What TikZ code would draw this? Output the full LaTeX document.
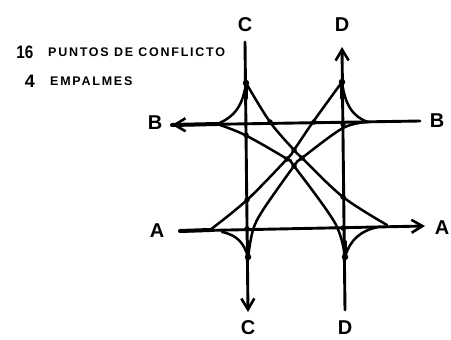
\documentclass[tikz,border=0pt]{standalone}
\usepackage{fontspec}
\setmainfont{Liberation Sans}
\usetikzlibrary{arrows.meta}
\tikzset{
  road/.style={line width=2.9pt,black,line cap=round},
  ramp/.style={line width=2.5pt,black,line cap=round},
  merge/.style={line width=4pt,black,line cap=round},
  tip/.style={-{Straight Barb[length=11pt,width=13pt,line width=2.6pt]}},
  big/.style={font=\bfseries\fontsize{20}{20}\selectfont,inner sep=0pt},
  num/.style={font=\bfseries\fontsize{18}{18}\selectfont,inner sep=0pt},
  small/.style={font=\bfseries\fontsize{12.5}{12.5}\selectfont\addfontfeature{LetterSpace=14},inner sep=0pt,anchor=west},
  dotj/.style={circle,fill=black,inner sep=0pt,minimum size=6.5pt},
  dotk/.style={circle,fill=black,inner sep=0pt,minimum size=5.5pt}
}
\begin{document}
\begin{tikzpicture}[x=1pt,y=-1pt]
\useasboundingbox (0,0) rectangle (451,340);
\fill[white] (0,0) rectangle (451,340);
% labels
\node[big] (lct) at (245,25) {C};
\node[big] (ldt) at (342,25) {D};
\node[big] (lbl) at (155,123) {B};
\node[big] (lbr) at (437,121) {B};
\node[big] (lal) at (157,231) {A};
\node[big] (lar) at (442,228) {A};
\node[big] (lcb) at (248,328) {C};
\node[big] (ldb) at (345,328) {D};
\node[num,xscale=.85] (n16) at (25,52) {16};
\node[num] (n4) at (30,81) {4};
\node[small] (t1) at (48,52) {PUNTOS DE CONFLICTO};
\node[small] (t2) at (50,81) {EMPALMES};
% road ends and merge points
\coordinate (c0) at (245,42);   \coordinate (c1) at (248,312);
\coordinate (d0) at (345,310);  \coordinate (d1) at (342,47);
\coordinate (b0) at (420,121);  \coordinate (b1) at (172,125);
\coordinate (a0) at (180,231);  \coordinate (a1) at (425,226);
\coordinate (jct) at (246,83);  \coordinate (jdt) at (342,82);
\coordinate (jbl) at (217,124); \coordinate (jbr) at (368,122);
\coordinate (jal) at (210,230); \coordinate (jar) at (387,225);
\coordinate (jcb) at (248,257); \coordinate (jdb) at (345,257);
% roads
\draw[road,tip] (c0) -- (c1);
\draw[road,tip] (d0) -- (d1);
\draw[road,tip] (b0) -- (b1);
\draw[road,tip] (a0) -- (a1);
% thick stretches where ramps run alongside a road
\draw[merge] (jbl) -- (b1);
\draw[merge] (a0) -- (jal);
\draw[merge] (jct) -- (246,98);
\draw[merge] (jdt) -- (342,98);
\draw[merge] (jcb) -- (248,242);
\draw[merge] (jdb) -- (345,242);
% corner ramps
\draw[ramp] (jct) .. controls (243,105) and (235,117) .. (jbl);
\draw[ramp] (jdt) .. controls (345,105) and (353,117) .. (jbr);
\draw[ramp] (jcb) .. controls (244,243) and (237,235) .. (222,232);
\draw[ramp] (jdb) .. controls (350,240) and (360,231) .. (378,227);
% long diagonals
\draw[ramp] plot[smooth,tension=.55] coordinates {(jct) (270,122) (294,150) (302,158) (343,197) (jar)};
\draw[ramp] plot[smooth,tension=.55] coordinates {(jbl) (245,135) (287,159) (294,166) (335,223) (jdb)};
\draw[ramp] plot[smooth,tension=.55] coordinates {(jdt) (313,122) (294,150) (287,159) (247,200) (jal)};
\draw[ramp] plot[smooth,tension=.55] coordinates {(jbr) (343,128) (302,158) (294,166) (263,210) (253,230) (jcb)};
% thickened merges and conflict points
\node[dotj] (m1) at (jct) {};
\node[dotj] (m2) at (jdt) {};
\node[dotj] (m3) at (jcb) {};
\node[dotj] (m4) at (jdb) {};
\node[dotk] (k1) at (294,150) {};
\node[dotk] (k2) at (287,159) {};
\node[dotk] (k3) at (302,158) {};
\node[dotk] (k4) at (294,166) {};
\node[dotk] (k5) at (246,135) {};
\node[dotk] (k6) at (343,197) {};
\node[dotk] (k7) at (247,200) {};
\node[dotk] (k8) at (343,124) {};
\node[dotk] (k9) at (270,122) {};
\node[dotk] (k10) at (314,122) {};
\node[dotk] (k11) at (247,229) {};
\node[dotk] (k12) at (343,228) {};
\end{tikzpicture}
\end{document}
